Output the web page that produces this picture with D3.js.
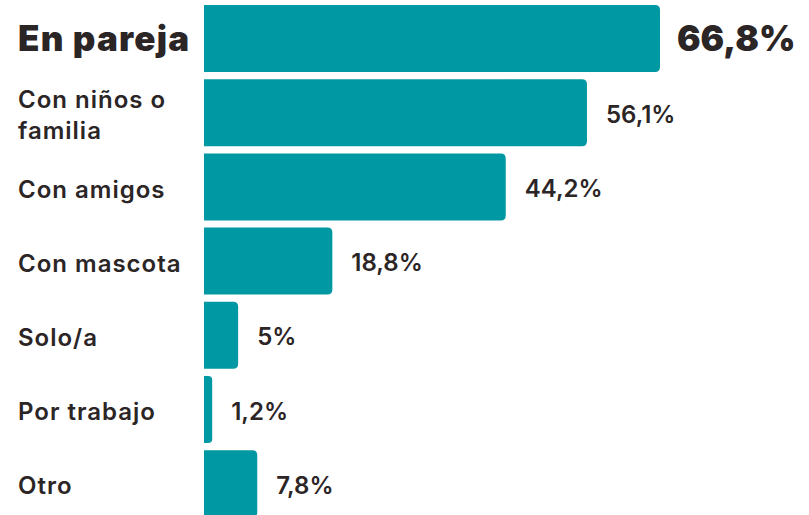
<!DOCTYPE html>
<html>
<head>
<meta charset="utf-8">
<script src="https://cdn.jsdelivr.net/npm/d3@7"></script>
<style>
  body { margin: 0; background: #fff; }
  text { font-family: "Inter", "Open Sans", sans-serif; fill: #2b2526; }
</style>
</head>
<body>
<div id="chart"></div>
<script>
var categories = ["En pareja", "Con niños o familia", "Con amigos", "Con mascota", "Solo/a", "Por trabajo", "Otro"];
var values = [66.8, 56.1, 44.2, 18.8, 5, 1.2, 7.8];
var valueLabels = ["66,8%", "56,1%", "44,2%", "18,8%", "5%", "1,2%", "7,8%"];
var labelLines = [["En pareja"], ["Con niños o", "familia"], ["Con amigos"], ["Con mascota"], ["Solo/a"], ["Por trabajo"], ["Otro"]];

var width = 809,
    height = 515,
    x0 = 204,
    r = 5;

var data = categories.map(function(c, i) {
  return {name: c, value: values[i], label: valueLabels[i], lines: labelLines[i], top: i === 0};
});

var x = d3.scaleLinear()
    .domain([0, 66.8])
    .range([x0, 660]);

var y = d3.scaleBand()
    .domain(categories)
    .range([5, 517.2])
    .paddingInner(0.097)
    .paddingOuter(0);

var svg = d3.select("#chart").append("svg")
    .attr("width", width)
    .attr("height", height);

function barPath(d) {
  var x1 = x(0), x2 = x(d.value), y1 = y(d.name), h = y.bandwidth();
  var rr = Math.min(r, (x2 - x1) / 2);
  return "M" + x1 + "," + y1 +
    "H" + (x2 - rr) +
    "Q" + x2 + "," + y1 + " " + x2 + "," + (y1 + rr) +
    "V" + (y1 + h - rr) +
    "Q" + x2 + "," + (y1 + h) + " " + (x2 - rr) + "," + (y1 + h) +
    "H" + x1 + "Z";
}

var row = svg.selectAll(".row")
    .data(data)
  .enter().append("g")
    .attr("class", "row");

row.append("path")
    .attr("d", barPath)
    .style("fill", "#0098a3");

// category labels, wrapped where needed
row.append("text")
    .attr("x", 18)
    .attr("y", function(d) { return y(d.name) + y.bandwidth() / 2; })
    .style("font-size", function(d) { return d.top ? "35px" : "24px"; })
    .style("font-weight", function(d) { return d.top ? 900 : 600; })
    .style("letter-spacing", function(d) { return d.top ? "1.2px" : "1px"; })
    .each(function(d) {
      var t = d3.select(this), n = d.lines.length;
      d.lines.forEach(function(line, i) {
        t.append("tspan")
          .attr("x", 18)
          .attr("dy", i === 0 ? ((d.top ? 0.35 : 0.45) - (n - 1) * 0.65) + "em" : "1.3em")
          .text(line);
      });
    });

// value labels
row.append("text")
    .attr("x", function(d) { return x(d.value) + (d.top ? 17 : 19); })
    .attr("y", function(d) { return y(d.name) + y.bandwidth() / 2; })
    .attr("dy", function(d) { return d.top ? ".35em" : ".42em"; })
    .style("font-size", function(d) { return d.top ? "35px" : "24px"; })
    .style("font-weight", function(d) { return d.top ? 900 : 600; })
    .text(function(d) { return d.label; });
</script>
</body>
</html>
